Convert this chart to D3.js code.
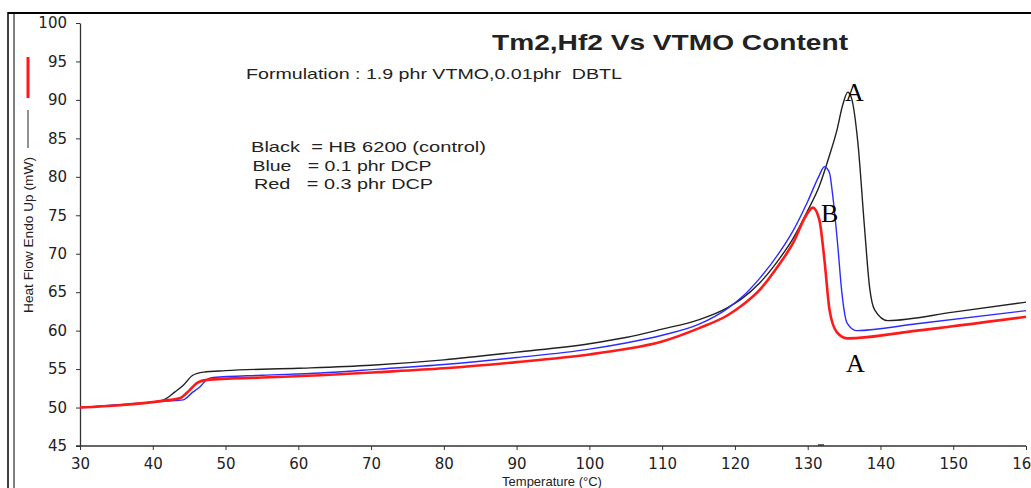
<!DOCTYPE html>
<html>
<head>
<meta charset="utf-8">
<script src="https://cdn.jsdelivr.net/npm/d3@7"></script>
<style>
  body { margin: 0; background: #fff; }
  svg { display: block; }
  text { font-family: "Liberation Sans", Arial, sans-serif; }
</style>
</head>
<body>
<script>
// temperatures (°C) and heat flow (mW)
const blackT = [30, 35, 40, 41.5, 43, 44.2, 45.5, 47, 50, 60, 70, 80, 90, 100, 105, 110, 115, 119, 121, 123.4, 126, 128, 130, 131.6, 133, 134, 134.8, 135.5, 136, 136.9, 137.8, 138.5, 139.2, 141, 150, 160]
const blackV = [50.0, 50.3, 50.7, 51.0, 52.0, 52.9, 54.2, 54.6, 54.8, 55.1, 55.5, 56.2, 57.2, 58.3, 59.1, 60.2, 61.4, 63.0, 64.2, 66.2, 69.2, 72.0, 75.6, 78.8, 82.8, 86.0, 89.3, 91.0, 90.3, 84.4, 73.5, 65.7, 62.7, 61.3, 62.4, 63.7]

const blueT = [30, 40, 43, 44.2, 45.5, 46.5, 47.4, 48.3, 55, 63, 71, 80, 90, 100, 105, 110, 115, 119, 121, 123.4, 126, 128, 130, 131.5, 132.3, 133, 133.4, 134.1, 134.7, 135.4, 136.7, 145, 160]
const blueV = [50.0, 50.7, 50.9, 51.0, 52.0, 52.7, 53.6, 53.9, 54.2, 54.5, 55.0, 55.6, 56.5, 57.6, 58.4, 59.4, 60.8, 62.9, 64.4, 66.8, 70.0, 73.0, 76.8, 80.0, 81.3, 80.5, 77.9, 71.4, 64.9, 61.0, 60.0, 60.9, 62.6]

const redT = [30, 35.5, 40, 42.4, 43.7, 45, 46.1, 47.4, 55, 63, 71, 80, 90, 100, 105, 110, 115, 119, 121, 123.4, 126, 128, 129.8, 130.7, 131.6, 132.3, 133, 134, 135.4, 145, 160]
const redV = [50.0, 50.3, 50.7, 51.0, 51.2, 52.2, 53.2, 53.6, 53.9, 54.2, 54.6, 55.1, 55.9, 56.9, 57.6, 58.6, 60.3, 62.0, 63.3, 65.3, 68.5, 71.4, 75.0, 76.0, 74.4, 69.2, 62.7, 59.8, 59.0, 60.0, 61.8]

const xTicks = [30, 40, 50, 60, 70, 80, 90, 100, 110, 120, 130, 140, 150, 160]
const yTicks = [45, 50, 55, 60, 65, 70, 75, 80, 85, 90, 95, 100]

const W = 1031, H = 488
const svg = d3.select('body').append('svg').attr('width', W).attr('height', H)

const x = d3.scaleLinear().domain([30, 160]).range([80, 1026])
const y = d3.scaleLinear().domain([45, 100]).range([446, 23])

// outer frame
svg.append('line').attr('x1', 8).attr('x2', 1031).attr('y1', 13).attr('y2', 13)
  .attr('stroke', '#000').attr('stroke-width', 2)
svg.append('line').attr('x1', 8).attr('x2', 8).attr('y1', 12).attr('y2', H)
  .attr('stroke', '#000').attr('stroke-width', 1.5)
svg.append('line').attr('x1', 14).attr('x2', 14).attr('y1', 12).attr('y2', H)
  .attr('stroke', '#000').attr('stroke-width', 1)

// axes
const xAxis = svg.append('g').attr('transform', 'translate(0,446)')
  .call(d3.axisBottom(x).tickValues(xTicks).tickSize(4).tickSizeOuter(0).tickPadding(8))
const yAxis = svg.append('g').attr('transform', 'translate(80,0)')
  .call(d3.axisLeft(y).tickValues(yTicks).tickSize(4).tickSizeOuter(0).tickPadding(9))
for (const g of [xAxis, yAxis]) {
  g.select('.domain').attr('stroke', '#333').attr('stroke-width', 1.3)
  g.selectAll('.tick line').attr('stroke', '#333')
  g.selectAll('.tick text').attr('fill', '#222')
    .style('font-family', '"DejaVu Sans", sans-serif').style('font-size', '15px')
}
xAxis.select('.domain').attr('d', 'M76,0H1026')

// curves
const line = d3.line().x(d => x(d[0])).y(d => y(d[1])).curve(d3.curveMonotoneX)
const series = [
  {t: blackT, v: blackV, color: '#222', w: 1.4},
  {t: blueT, v: blueV, color: '#2b2bff', w: 1.4},
  {t: redT, v: redV, color: '#ff1a1a', w: 2.6}
]
series.forEach(s => {
  svg.append('path').attr('d', line(d3.zip(s.t, s.v)))
    .attr('fill', 'none').attr('stroke', s.color).attr('stroke-width', s.w)
})

// small mark on x axis
svg.append('line').attr('x1', 818).attr('x2', 824).attr('y1', 445).attr('y2', 445)
  .attr('stroke', '#333').attr('stroke-width', 1.5)

// titles and notes
svg.append('text').attr('x', 492).attr('y', 50).attr('font-size', 22).attr('font-weight', 'bold')
  .attr('textLength', 356).attr('lengthAdjust', 'spacingAndGlyphs')
  .attr('fill', '#222').text('Tm2,Hf2 Vs VTMO Content')
svg.append('text').attr('x', 246).attr('y', 79).attr('font-size', 14.5)
  .attr('textLength', 376).attr('lengthAdjust', 'spacingAndGlyphs')
  .attr('fill', '#222').attr('xml:space', 'preserve').style('white-space', 'pre')
  .text('Formulation : 1.9 phr VTMO,0.01phr  DBTL')
const notes = ['Black  = HB 6200 (control)', 'Blue   = 0.1 phr DCP', 'Red   = 0.3 phr DCP']
const noteLen = [235, 179, 179]
notes.forEach((n, i) => {
  svg.append('text').attr('x', 251 + i * 1.5).attr('y', 152 + i * 18.5).attr('font-size', 14.5)
    .attr('textLength', noteLen[i]).attr('lengthAdjust', 'spacingAndGlyphs')
    .attr('fill', '#222').attr('xml:space', 'preserve').style('white-space', 'pre').text(n)
})

// peak labels
const serif = 'Liberation Serif, Times New Roman, serif'
;[['A', 845, 101], ['B', 821, 222], ['A', 846, 372]].forEach(([t, px, py]) => {
  svg.append('text').attr('x', px).attr('y', py).attr('font-size', 26)
    .style('font-family', serif).attr('fill', '#000').text(t)
})

// axis titles
svg.append('text').attr('transform', 'translate(33,235) rotate(-90)').attr('text-anchor', 'middle')
  .attr('font-size', 13).attr('textLength', 156).attr('lengthAdjust', 'spacingAndGlyphs')
  .attr('fill', '#222').text('Heat Flow Endo Up (mW)')
svg.append('line').attr('x1', 28).attr('x2', 28).attr('y1', 110).attr('y2', 148)
  .attr('stroke', '#222').attr('stroke-width', 1)
svg.append('line').attr('x1', 28).attr('x2', 28).attr('y1', 57).attr('y2', 98)
  .attr('stroke', '#ff1a1a').attr('stroke-width', 3)
svg.append('text').attr('x', 552).attr('y', 486).attr('text-anchor', 'middle')
  .attr('font-size', 13).attr('fill', '#222').text('Temperature (°C)')
</script>
</body>
</html>
